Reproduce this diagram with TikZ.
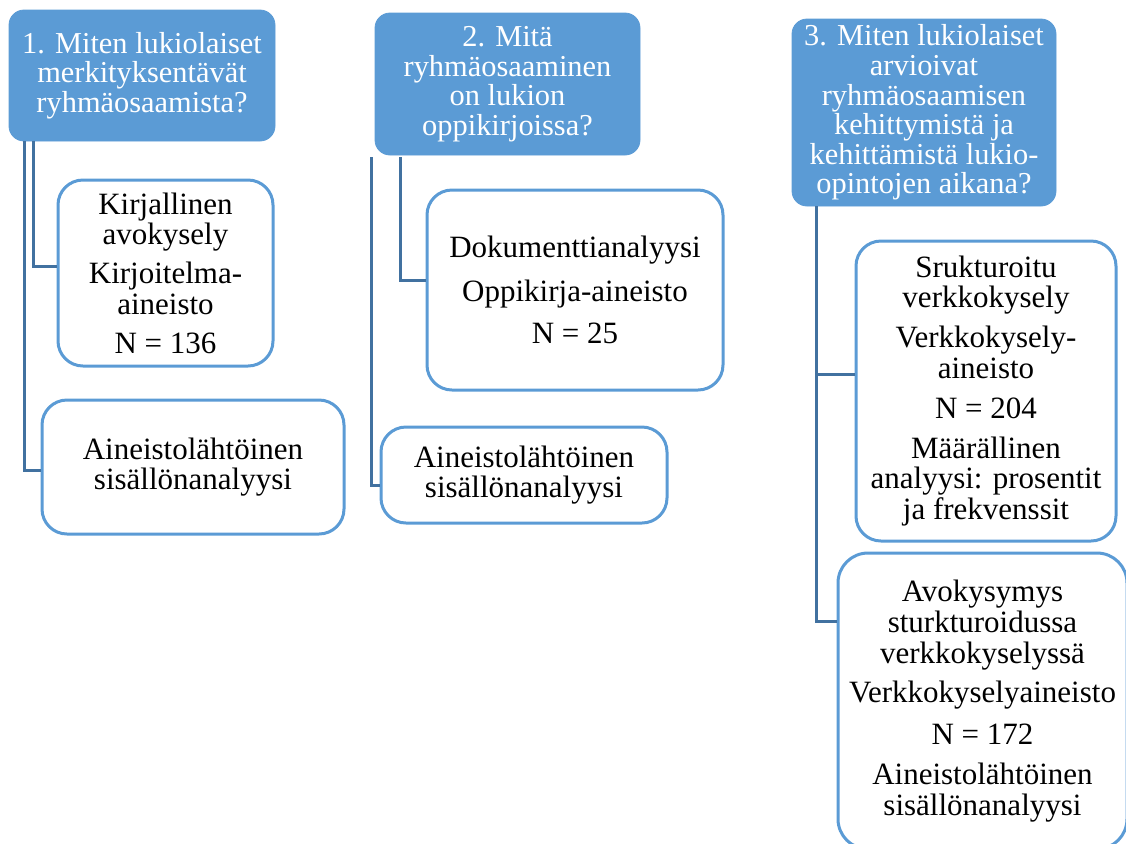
\documentclass[tikz,border=0pt]{standalone}
\usepackage{fontspec}
\setmainfont{Liberation Serif}
\definecolor{headblue}{RGB}{91,155,213}
\definecolor{lineblue}{RGB}{65,113,160}

\begin{document}
\begin{tikzpicture}[x=0.5pt, y=-0.5pt,
                          question/.style={rectangle, rounded corners=7.5pt, fill=headblue, draw=headblue, text=white, align=center, inner sep=0pt, font=\fontsize{15.2}{14.8}\selectfont},
                          method/.style={rectangle, rounded corners=12.5pt, draw=headblue, line width=1.5pt, fill=white, align=center, inner sep=0pt, font=\fontsize{15.5}{15.4}\selectfont},
                          link/.style={draw=lineblue, line width=1.5pt},
                      ]
                      \useasboundingbox (0,0) rectangle (1126,843);
                      \clip (0,0) rectangle (1126,843);

                      %Nodes
                      \node[question, minimum width=133pt, minimum height=65.5pt]   (q1)  at (142,75.5)  {1. Miten lukiolaiset\\ merkityksentävät\\ ryhmäosaamista?};
                      \node[question, minimum width=132.5pt, minimum height=71pt]   (q2)  at (507.5,84)  {2. Mitä\\ ryhmäosaaminen\\ on lukion\\ oppikirjoissa?};
                      \node[question, minimum width=132pt, minimum height=93.5pt]   (q3)  at (924,112.5) {3. Miten lukiolaiset\\ arvioivat\\ ryhmäosaamisen\\ kehittymistä ja\\ kehittämistä lukio-\\ opintojen aikana?};

                      \node[method, minimum width=107.5pt, minimum height=93pt]     (m1a) at (165.5,273) {Kirjallinen\\ avokysely\\[4pt] Kirjoitelma-\\ aineisto\\[4pt] N = 136};
                      \node[method, minimum width=151pt, minimum height=67pt]       (m1b) at (193,467)   {Aineistolähtöinen\\ sisällönanalyysi};
                      \node[method, minimum width=148pt, minimum height=100pt]      (m2a) at (575,290)   {Dokumenttianalyysi\\[6.5pt] Oppikirja-aineisto\\[5.5pt] N = 25};
                      \node[method, minimum width=143pt, minimum height=48pt]       (m2b) at (524,475)   {Aineistolähtöinen\\ sisällönanalyysi};
                      \node[method, minimum width=130pt, minimum height=150pt]      (m3a) at (986,391)   {Srukturoitu\\ verkkokysely\\[4.5pt] Verkkokysely-\\ aineisto\\[4.5pt] N = 204\\[4.5pt] Määrällinen\\ analyysi: prosentit\\ ja frekvenssit};
                      \node[method, rounded corners=15pt, minimum width=144.5pt, minimum height=148pt] (m3b) at (982.5,701) {Avokysymys\\ sturkturoidussa\\ verkkokyselyssä\\[4.5pt] Verkkokyselyaineisto\\[5.5pt] N = 172\\[4.5pt] Aineistolähtöinen\\ sisällönanalyysi};

                      %Lines
                      \draw[link] ([xshift=12.5pt]q1.south west) |- ([yshift=3.5pt]m1a.west);
                      \draw[link] ([xshift=8pt]q1.south west) |- ([yshift=-1.5pt]m1b.west);
                      \draw[link] ([xshift=13pt, yshift=-1pt]q2.south west) |- ([yshift=5pt]m2a.west);
                      \draw[link] ([xshift=-1.5pt, yshift=-1pt]q2.south west) |- ([yshift=-5pt]m2b.west);
                      \draw[link] ([xshift=12.5pt]q3.south west) |- ([yshift=8.5pt]m3a.west);
                      \draw[link] ([xshift=12.5pt]q3.south west) |- ([yshift=-35pt]m3b.north west);
                  \end{tikzpicture}
\end{document}
